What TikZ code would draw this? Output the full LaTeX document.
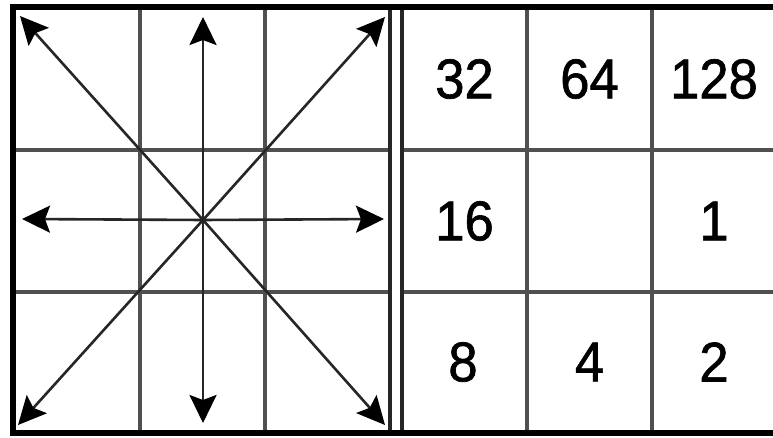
\documentclass[tikz,border=0pt]{standalone}
\usepackage{fontspec}
\setmainfont{Liberation Sans}
\newfontfamily\numfont[FakeBold=1.2]{Liberation Sans}
\usetikzlibrary{arrows.meta}
\definecolor{gridgray}{HTML}{505050}
\definecolor{arrgray}{HTML}{262626}
\begin{document}
\begin{tikzpicture}[x=1pt,y=-1pt,
  gridline/.style={draw=gridgray,line width=3.5pt},
  border/.style={draw=black,line width=6pt},
  sideline/.style={draw=black!85,line width=4pt},
  arr/.style={draw=arrgray,line width=2.6pt,-{Stealth[length=28pt,width=27pt,inset=5pt,black]}},
  num/.style={font=\numfont\fontsize{56}{56}\selectfont,inner sep=0pt,xscale=0.94,transform shape}]
\useasboundingbox[fill=white] (0,0) rectangle (773,438);
% left grid lines
\draw[gridline] (140,7) -- (140,433);
\draw[gridline] (265,7) -- (265,433);
\draw[gridline] (13,150) -- (390,150);
\draw[gridline] (13,292) -- (390,292);
% right grid lines
\draw[gridline] (527,7) -- (527,433);
\draw[gridline] (652,7) -- (652,433);
\draw[gridline] (402,150) -- (780,150);
\draw[gridline] (402,292) -- (780,292);
% borders
\draw[sideline] (390,7) -- (390,433);
\draw[sideline] (402,7) -- (402,433);
\draw[border] (13,4) -- (13,436);
\draw[border] (10,7) -- (780,7);
\draw[border] (10,433) -- (780,433);
% arrows
\coordinate (c) at (203,220);
\coordinate (tl) at (20,16);
\coordinate (tr) at (385,17);
\coordinate (bl) at (18,425);
\coordinate (br) at (385,425);
\coordinate (up) at (203,17);
\coordinate (dn) at (203,423);
\coordinate (lf) at (22,219);
\coordinate (rt) at (384,219);
\foreach \t in {tl,tr,bl,br,up,dn,lf,rt} \draw[arr] (c) -- (\t);
% numbers
\node[num] (n32) at (464.5,79) {32};
\node[num] (n64) at (589.5,79) {64};
\node[num] (n128) at (714,79) {128};
\node[num] (n16) at (464.5,221) {16};
\node[num] (n1) at (714,221) {1};
\node[num] (n8) at (463,362) {8};
\node[num] (n4) at (589.5,362) {4};
\node[num] (n2) at (714,362) {2};
\end{tikzpicture}
\end{document}
